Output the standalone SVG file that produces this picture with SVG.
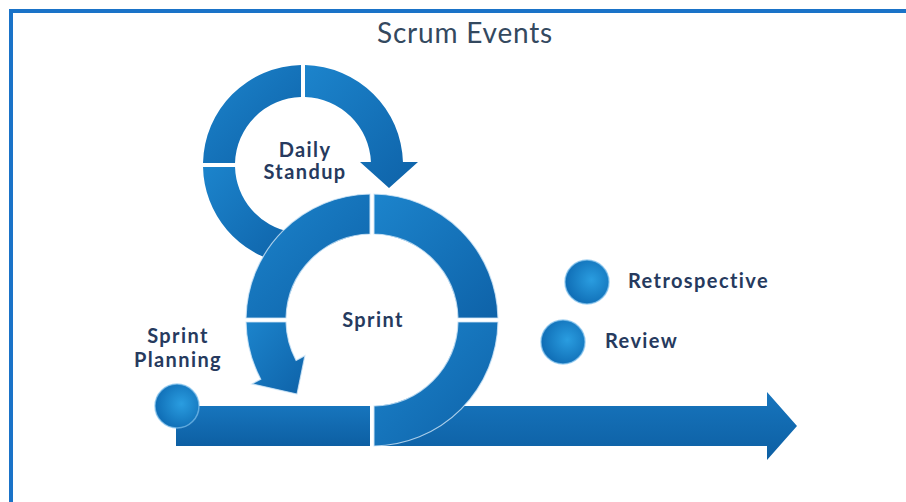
<svg xmlns="http://www.w3.org/2000/svg" width="906" height="502" viewBox="0 0 906 502">
<defs>
<linearGradient id="seg" x1="0" y1="0" x2="1" y2="1">
<stop offset="0" stop-color="#1c84cc"/>
<stop offset="1" stop-color="#0e62a8"/>
</linearGradient>
<linearGradient id="bar" x1="0" y1="0" x2="0" y2="1">
<stop offset="0" stop-color="#1775bd"/>
<stop offset="1" stop-color="#0d5fa3"/>
</linearGradient>
<radialGradient id="dot" cx="0.6" cy="0.45" r="0.6">
<stop offset="0" stop-color="#2a9de0"/>
<stop offset="1" stop-color="#0f6db5"/>
</radialGradient>
<style>
.seg{fill:url(#seg)}
.sp{fill:url(#seg);stroke:#cfe6f7;stroke-width:1.2;stroke-opacity:0.8}
.bar{fill:url(#bar)}
.dot{fill:url(#dot);stroke:#7fc1ec;stroke-width:1.5;stroke-opacity:0.7}
.lbl{font-family:Lato,"Open Sans",sans-serif;font-weight:bold;font-size:20px;letter-spacing:1.4px;fill:#263a5e}
.title{font-family:Lato,"Open Sans",sans-serif;font-size:28px;letter-spacing:0.8px;fill:#34495f}
</style>
</defs>
<rect width="906" height="502" fill="#ffffff"/>
<g id="frame">
<rect x="9" y="9" width="897" height="4" fill="#1a73c8"/>
<rect x="9" y="9" width="4" height="493" fill="#1a73c8"/>
</g>
<text class="title" x="465" y="43" text-anchor="middle">Scrum Events</text>
<g id="daily-standup">
<path class="seg" d="M203,163 A100,100 0 0 1 301,65.02 L301,97.03 A68,68 0 0 0 235.03,163 Z"/>
<path class="seg" d="M305,65.02 A100,100 0 0 1 402.95,162 L418,162 L389,188 L360,162 L370.93,162 A68,68 0 0 0 305,97.03 Z"/>
<path class="seg" d="M203.02,167 A100,100 0 0 0 285.6,263.5 L291.2,232 A68,68 0 0 1 235.03,167 Z"/>
<text class="lbl" x="305" y="157" text-anchor="middle">Daily</text>
<text class="lbl" x="305" y="179" text-anchor="middle">Standup</text>
</g>
<g id="sprint">
<path class="sp" d="M246.02,318 A126,126 0 0 1 370,194.02 L370,234.02 A86,86 0 0 0 286.02,318 Z"/>
<path class="sp" d="M374,194.02 A126,126 0 0 1 497.98,318 L457.98,318 A86,86 0 0 0 374,234.02 Z"/>
<path class="sp" d="M246.02,322 A126,126 0 0 0 260.75,379.16 L251.9,383.9 L297,394 L304.9,355.7 L296.1,360.4 A86,86 0 0 1 286.02,322 Z"/>
<text class="lbl" x="373" y="327" text-anchor="middle">Sprint</text>
</g>
<g id="timeline">
<rect class="bar" x="176" y="406" width="194" height="40"/>
<polygon class="bar" points="374,406 767,406 767,392 797,426 767,460 767,446 374,446"/>
<path class="sp" d="M497.98,322 A126,126 0 0 1 374,446 L374,405.98 A86,86 0 0 0 457.98,322 Z"/>
</g>
<g id="sprint-planning">
<circle class="dot" cx="177" cy="406" r="22"/>
<text class="lbl" x="178" y="343" text-anchor="middle">Sprint</text>
<text class="lbl" x="178" y="367" text-anchor="middle">Planning</text>
</g>
<g id="retrospective">
<circle class="dot" cx="587" cy="282" r="22"/>
<text class="lbl" x="628" y="288">Retrospective</text>
</g>
<g id="review">
<circle class="dot" cx="563" cy="342" r="22"/>
<text class="lbl" x="605" y="348">Review</text>
</g>
</svg>
